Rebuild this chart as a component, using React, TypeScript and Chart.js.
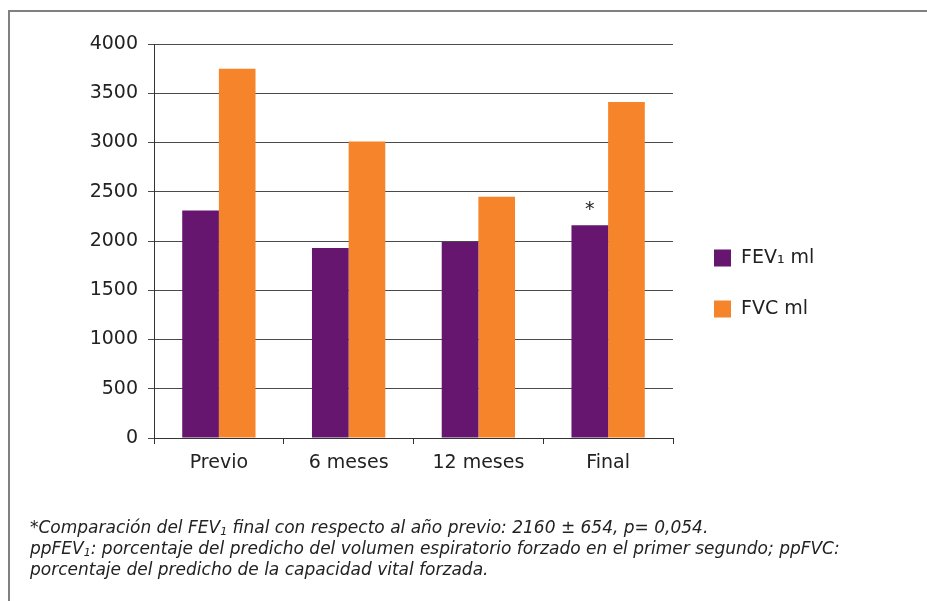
import React, { useEffect, useRef } from 'react';
import { Chart, registerables } from 'chart.js';

Chart.register(...registerables);

// Spirometry volumes (ml) at each follow-up visit
const categories = ['Previo', '6 meses', '12 meses', 'Final'];
const fev1Values = [2310, 1930, 1990, 2160];
const fvcValues = [3750, 3010, 2450, 3410];
const seriesLabels = ['FEV₁ ml', 'FVC ml'];
const seriesColors = ['#66166e', '#f5842a'];
const yMin = 0;
const yMax = 4000;
const yStep = 500;
// Bar (dataset 0) flagged with an asterisk
const markedIndex = 3;
const markText = '*';

const FONT = "'DejaVu Sans', Verdana, sans-serif";
const TEXT = '#222222';

// Legend drawn to the right of the plot area, plus the asterisk marker
const sideDecor = {
  id: 'sideDecor',
  afterDraw(chart: any) {
    const { ctx, chartArea } = chart;
    ctx.save();
    ctx.font = `19px ${FONT}`;
    ctx.textBaseline = 'middle';
    ctx.textAlign = 'left';
    chart.data.datasets.forEach((ds: any, i: number) => {
      const bx = chartArea.right + 41;
      const cy = chartArea.top + 214 + i * 51;
      ctx.fillStyle = ds.backgroundColor;
      ctx.fillRect(bx, cy - 8.5, 17, 17);
      ctx.fillStyle = TEXT;
      ctx.fillText(ds.label, bx + 27, cy);
    });
    const bar = chart.getDatasetMeta(0).data[markedIndex];
    if (bar) {
      ctx.textAlign = 'center';
      ctx.fillStyle = TEXT;
      ctx.fillText(markText, bar.x, bar.y - 15);
    }
    ctx.restore();
  },
};

const subStyle: React.CSSProperties = { fontSize: 11, verticalAlign: '-2px', lineHeight: 0 };

export default function App() {
  const canvasRef = useRef<HTMLCanvasElement | null>(null);

  useEffect(() => {
    if (!canvasRef.current) return;
    const chart = new Chart(canvasRef.current, {
      type: 'bar',
      data: {
        labels: categories,
        datasets: [
          { label: seriesLabels[0], data: fev1Values, backgroundColor: seriesColors[0] },
          { label: seriesLabels[1], data: fvcValues, backgroundColor: seriesColors[1] },
        ],
      },
      options: {
        responsive: false,
        animation: false,
        devicePixelRatio: 1,
        layout: { padding: { left: 50, top: 44, right: 254, bottom: 0 } },
        datasets: { bar: { categoryPercentage: 0.565, barPercentage: 1 } },
        plugins: { legend: { display: false }, tooltip: { enabled: false } },
        scales: {
          x: {
            grid: { drawOnChartArea: false, drawTicks: true, tickLength: 6, color: '#333', offset: true },
            border: { display: true, color: '#333', width: 1 },
            ticks: { font: { family: FONT, size: 19 }, color: TEXT, padding: 8 },
            afterFit: (s: any) => {
              s.height = 163;
            },
          },
          y: {
            min: yMin,
            max: yMax,
            ticks: {
              stepSize: yStep,
              font: { family: FONT, size: 19 },
              color: TEXT,
              padding: 10,
              callback: (v: any) => String(v),
            },
            grid: { color: '#4a4a4a', tickLength: 6, drawTicks: true },
            border: { display: true, color: '#333', width: 1 },
            afterFit: (s: any) => {
              s.width = 104;
            },
          },
        },
      },
      plugins: [sideDecor],
    });
    return () => chart.destroy();
  }, []);

  return (
    <div style={{ position: 'absolute', left: 0, top: 0, width: 927, height: 601, overflow: 'hidden', background: '#fff' }}>
      <div
        style={{
          position: 'absolute',
          left: 8,
          top: 10,
          width: 940,
          height: 620,
          borderTop: '2px solid #808080',
          borderLeft: '2px solid #808080',
        }}
      />
      <canvas ref={canvasRef} width={927} height={601} style={{ position: 'absolute', left: 0, top: 0, width: 927, height: 601 }} />
      <div
        style={{
          position: 'absolute',
          left: 30,
          top: 517,
          fontFamily: FONT,
          fontStyle: 'italic',
          fontSize: 17,
          lineHeight: '21px',
          color: TEXT,
          whiteSpace: 'nowrap',
        }}
      >
        <div>
          *Comparación del FEV<sub style={subStyle}>1</sub> final con respecto al año previo: 2160 ± 654, p= 0,054.
        </div>
        <div>
          ppFEV<sub style={subStyle}>1</sub>: porcentaje del predicho del volumen espiratorio forzado en el primer segundo; ppFVC:
        </div>
        <div>porcentaje del predicho de la capacidad vital forzada.</div>
      </div>
    </div>
  );
}
